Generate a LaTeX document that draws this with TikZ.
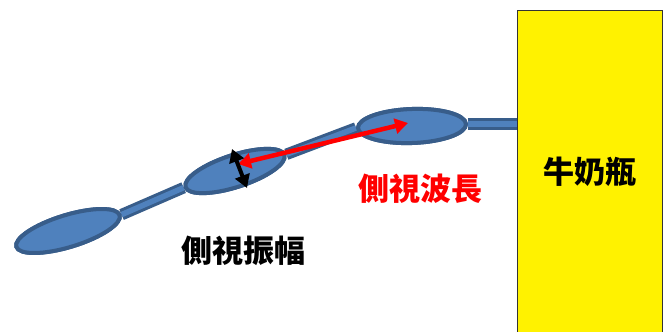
\documentclass[tikz,border=0pt]{standalone}
\usepackage{fontspec}
\newfontfamily\cjk{Noto Sans CJK TC}
\usetikzlibrary{shapes.geometric,arrows.meta}
\definecolor{bfill}{RGB}{79,129,189}
\definecolor{bline}{RGB}{56,93,138}
\tikzset{
  blob/.style={ellipse, draw=bline, fill=bfill, line width=4pt, inner sep=0pt},
  tube/.style={draw=bline, line width=3pt, double=bfill, double distance=5.5pt},
  lbl/.style={font=\cjk\bfseries\fontsize{31}{34}\selectfont, inner sep=0pt},
  tip/.style={line width=#1, {Triangle[length=13pt,width=15pt]}-{Triangle[length=13pt,width=15pt]}},
}
\begin{document}
\begin{tikzpicture}[x=1pt,y=-1pt]
\useasboundingbox (0,0) rectangle (670,332);
% bottle
\node[draw=black!80, line width=1.2pt, fill=yellow, minimum width=145pt, minimum height=330pt, anchor=north west, inner sep=0pt] (bottle) at (517,10) {};
\node[lbl] (btext) at (590,172) {牛奶瓶};
% blob positions
\node[blob, minimum width=108pt, minimum height=32pt, rotate=17] (e1) at (68,231) {};
\node[blob, minimum width=104pt, minimum height=32pt, rotate=18] (e2) at (235,171) {};
\node[blob, minimum width=108pt, minimum height=34pt, rotate=2] (e3) at (412,126) {};
% tubes
\coordinate (b3) at (e3.east -| bottle.west);
\draw[tube] (e1.east) -- (e2.west);
\draw[tube] (e2.east) -- (e3.west);
\draw[tube] (e3.east) -- (b3);
% blobs on top of the tubes
\node[blob, minimum width=108pt, minimum height=32pt, rotate=17] at (e1) {};
\node[blob, minimum width=104pt, minimum height=32pt, rotate=18] at (e2) {};
\node[blob, minimum width=108pt, minimum height=34pt, rotate=2] at (e3) {};
% arrows
\coordinate (ra) at (238,164);
\coordinate (rb) at (408,123);
\draw[red, tip=4.5pt] (ra) -- (rb);
\coordinate (ka) at (232,149);
\coordinate (kb) at (247,188);
\draw[black, tip=4pt] (ka) -- (kb);
% labels
\node[lbl] (amp) at (243,251) {側視振幅};
\node[lbl, text=red] (wav) at (420,189) {側視波長};
\end{tikzpicture}
\end{document}
